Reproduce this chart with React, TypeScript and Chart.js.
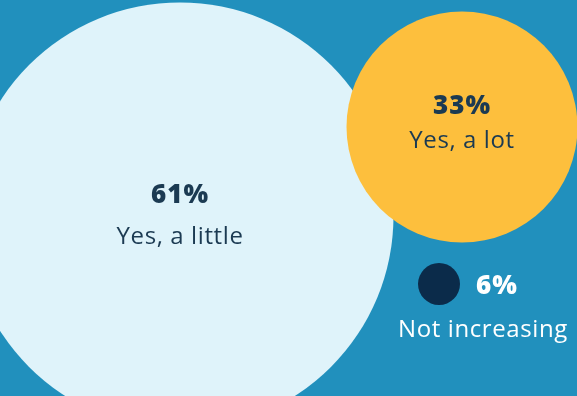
import React, { useEffect, useRef } from "react";
import { Chart, registerables } from "chart.js";

Chart.register(...registerables);

const categories = ["Yes, a little", "Yes, a lot", "Not increasing"];
const percents = [61, 33, 6];
const xPos = [180, 462, 439];
const yPos = [216, 127, 284];
const colors = ["#dff3fa", "#fdbf3d", "#0b2b4a"];

const W = 577;
const H = 396;

const labelPlugin = {
  id: "bubbleLabels",
  afterDatasetsDraw(chart: any) {
    const ctx = chart.ctx;
    const meta = chart.getDatasetMeta(0);
    ctx.save();
    ctx.textAlign = "center";
    ctx.textBaseline = "middle";
    const bold = "800 26px 'Open Sans', sans-serif";
    const reg = "24px 'Open Sans', sans-serif";
    meta.data.forEach((el: any, i: number) => {
      const { x, y } = el.getProps(["x", "y"], true);
      const pct = percents[i] + "%";
      if (i === 2) {
        ctx.fillStyle = "#ffffff";
        ctx.font = bold;
        (ctx as any).letterSpacing = "1px";
        ctx.fillText(pct, x + 58, y + 3);
        ctx.font = reg;
        (ctx as any).letterSpacing = "0.6px";
        ctx.fillText(categories[i], x + 44, y + 46);
      } else {
        ctx.fillStyle = "#1b3a52";
        ctx.font = bold;
        (ctx as any).letterSpacing = "1px";
        ctx.fillText(pct, x, y - 20 + (i === 1 ? 0 : 0));
        ctx.font = reg;
        (ctx as any).letterSpacing = "0.6px";
        ctx.fillText(categories[i], x, y + 21 - (i === 1 ? 7 : 0));
      }
    });
    ctx.restore();
  },
};

export default function App() {
  const ref = useRef<HTMLCanvasElement>(null);
  useEffect(() => {
    if (!ref.current) return;
    const chart = new Chart(ref.current, {
      type: "bubble",
      data: {
        labels: categories,
        datasets: [
          {
            data: percents.map((p, i) => ({ x: xPos[i], y: yPos[i], r: p * 3.5 })),
            backgroundColor: colors,
            borderWidth: 0,
            hoverRadius: 0,
            clip: false as any,
          },
        ],
      },
      options: {
        animation: false,
        responsive: false,
        maintainAspectRatio: false,
        layout: { padding: 0, autoPadding: false },
        events: [],
        plugins: { legend: { display: false }, tooltip: { enabled: false } },
        scales: {
          x: { type: "linear", min: 0, max: W, display: false },
          y: { type: "linear", min: 0, max: H, reverse: true, display: false },
        },
      },
      plugins: [labelPlugin],
    });
    return () => chart.destroy();
  }, []);
  return (
    <div
      style={{
        position: "absolute",
        left: 0,
        top: 0,
        width: W,
        height: H,
        background: "#2190bd",
        overflow: "hidden",
      }}
    >
      <canvas ref={ref} width={W} height={H} style={{ display: "block" }} />
    </div>
  );
}
